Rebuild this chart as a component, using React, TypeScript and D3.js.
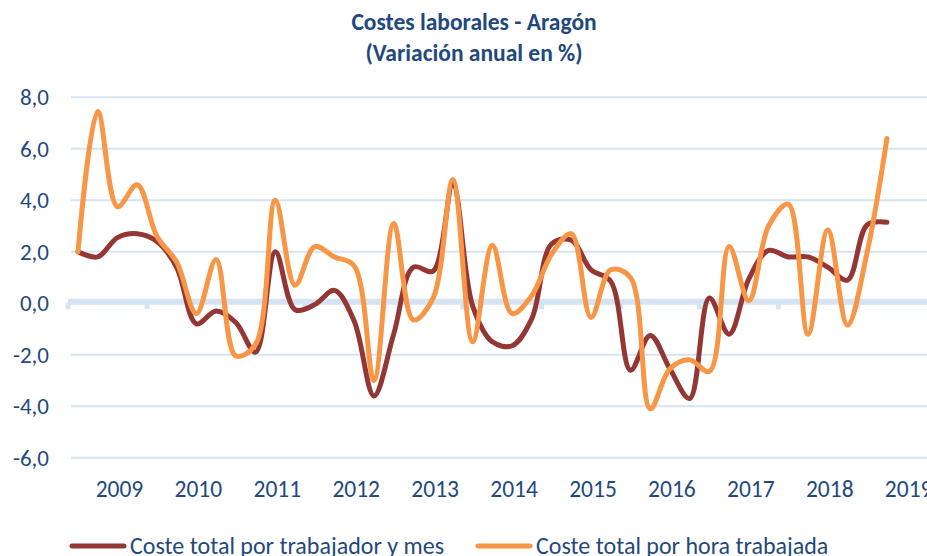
import React, { useEffect, useRef } from 'react';
import * as d3 from 'd3';

// Quarterly data, 2008 T3 .. 2018 T4
const years = ['2009', '2010', '2011', '2012', '2013', '2014', '2015', '2016', '2017', '2018', '2019'];
const costeTrabajador = [
  2.0, 1.8, 2.55, 2.7, 2.4, 1.4, -0.8, -0.3, -0.75, -1.9, 2.0, -0.25, -0.05, 0.5,
  -0.7, -3.6, -1.2, 1.4, 1.25, 4.6, -0.1, -1.5, -1.65, -0.6, 2.3, 2.45, 1.3, 0.85,
  -2.6, -1.25, -2.55, -3.7, 0.2, -1.2, 0.95, 2.05, 1.8, 1.8, 1.4, 0.9, 3.05, 3.15,
];
const costeHora = [
  2.0, 7.45, 3.75, 4.6, 2.6, 1.6, -0.4, 1.7, -2.05, -1.6, 4.0, 0.7, 2.2, 1.8,
  1.45, -3.0, 3.1, -0.65, 0.2, 4.8, -1.5, 2.25, -0.4, 0.3, 1.9, 2.7, -0.55, 1.3,
  1.0, -4.1, -2.55, -2.2, -2.65, 2.2, 0.1, 3.0, 3.85, -1.2, 2.85, -0.85, 2.0, 6.4,
];
const yTicks = [-6, -4, -2, 0, 2, 4, 6, 8];
const seriesNames = ['Coste total por trabajador y mes', 'Coste total por hora trabajada'];
const seriesColors = ['#943634', '#F79646'];

const FONT = "Carlito, 'Liberation Sans Narrow', 'Liberation Sans', sans-serif";
const TEXT = '#1F497D';
const GRID = '#D6E3F3';

const App: React.FC = () => {
  const svgRef = useRef<SVGSVGElement>(null);

  useEffect(() => {
    document.body.style.margin = '0';
    if (!svgRef.current) return;
    const svg = d3.select(svgRef.current);
    svg.selectAll('*').remove();

    const x = d3.scaleLinear().domain([0, 42]).range([78, 906.7]);
    const y = d3.scaleLinear().domain([-6, 8]).range([457.7, 97.3]);

    // title
    const title = svg.append('text')
      .attr('text-anchor', 'middle')
      .attr('fill', TEXT)
      .attr('font-family', FONT)
      .attr('font-weight', 'bold')
      .attr('font-size', 23.5);
    title.append('tspan').attr('x', 474).attr('y', 30).text('Costes laborales - Aragón');
    title.append('tspan').attr('x', 474).attr('y', 61).text('(Variación anual  en %)');

    // gridlines
    svg.append('g')
      .selectAll('line')
      .data(yTicks.filter(d => d !== 0))
      .enter().append('line')
      .attr('x1', 71)
      .attr('x2', 927)
      .attr('y1', d => y(d))
      .attr('y2', d => y(d))
      .attr('stroke', GRID)
      .attr('stroke-width', 2);

    // zero axis with tick marks
    const axis = svg.append('g');
    axis.append('line')
      .attr('x1', 68)
      .attr('x2', 927)
      .attr('y1', y(0) - 1.5)
      .attr('y2', y(0) - 1.5)
      .attr('stroke', GRID)
      .attr('stroke-width', 6);
    axis.selectAll('rect.tick')
      .data(d3.range(0, 11))
      .enter().append('rect')
      .attr('class', 'tick')
      .attr('x', k => x(-0.5 + 4 * k) - 2.5)
      .attr('y', y(0))
      .attr('width', 5)
      .attr('height', 6)
      .attr('fill', GRID);

    // y labels
    svg.append('g')
      .selectAll('text')
      .data(yTicks)
      .enter().append('text')
      .attr('x', 49)
      .attr('y', d => y(d) + 8)
      .attr('text-anchor', 'end')
      .attr('fill', TEXT)
      .attr('font-family', FONT)
      .attr('font-size', 23)
      .text(d => d3.format('.1f')(d).replace('.', ',').replace('\u2212', '-'));

    // x labels
    svg.append('g')
      .selectAll('text')
      .data(years)
      .enter().append('text')
      .attr('x', (_, i) => x(2 + 4 * i) + 2)
      .attr('y', 497)
      .attr('text-anchor', 'middle')
      .attr('fill', TEXT)
      .attr('font-family', FONT)
      .attr('font-size', 23.5)
      .text(d => d);

    // lines
    const line = d3.line<number>()
      .x((_, i) => x(i))
      .y(d => y(d))
      .curve(d3.curveCatmullRom.alpha(0.5));

    [costeTrabajador, costeHora].forEach((s, k) => {
      svg.append('path')
        .datum(s)
        .attr('d', line)
        .attr('fill', 'none')
        .attr('stroke', seriesColors[k])
        .attr('stroke-width', 5)
        .attr('stroke-linecap', 'round')
        .attr('stroke-linejoin', 'round');
    });

    // legend
    const legendX = [72, 478];
    seriesNames.forEach((name, k) => {
      const g = svg.append('g').attr('transform', `translate(${legendX[k]},546)`);
      g.append('line')
        .attr('x1', 0)
        .attr('x2', 52)
        .attr('stroke', seriesColors[k])
        .attr('stroke-width', 5)
        .attr('stroke-linecap', 'round');
      g.append('text')
        .attr('x', 58)
        .attr('y', 8)
        .attr('fill', TEXT)
        .attr('font-family', FONT)
        .attr('font-size', 24)
        .text(name);
    });
  }, []);

  return <svg ref={svgRef} width={927} height={556} style={{ display: 'block', background: '#fff' }} />;
};

export default App;
